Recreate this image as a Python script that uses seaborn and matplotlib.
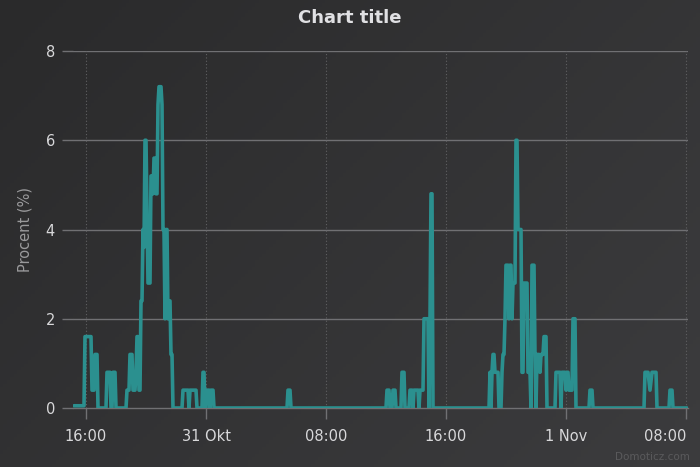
import numpy as np
import pandas as pd
import matplotlib
matplotlib.use("Agg")
import matplotlib.pyplot as plt
import seaborn as sns

# ---- data: (minutes after 30 Okt 15:12, usage in percent) ----
samples = [
    (0, 0.05), (40, 0.05), (44, 1.6), (68, 1.6), (72, 0.4), (80, 0.4), (84, 1.2),
    (92, 1.2), (96, 0), (128, 0), (132, 0.8), (144, 0.8), (148, 0), (152, 0),
    (156, 0.8), (164, 0.8), (168, 0), (208, 0), (212, 0.4), (220, 0.4), (224, 1.2),
    (232, 1.2), (236, 0.4), (244, 0.4), (248, 0.8), (252, 1.6), (256, 1.6),
    (260, 0.4), (264, 0.4), (268, 2.4), (272, 2.4), (276, 4.0), (280, 3.6),
    (284, 6.0), (288, 6.0), (296, 2.8), (304, 2.8), (308, 5.2), (312, 5.2),
    (316, 4.8), (320, 5.6), (324, 5.6), (328, 4.8), (332, 4.8), (336, 6.8),
    (340, 7.2), (348, 7.2), (352, 6.8), (356, 4.0), (360, 4.0), (364, 2.0),
    (368, 4.0), (372, 4.0), (376, 2.0), (380, 2.4), (384, 2.4), (388, 1.2),
    (392, 1.2), (396, 0), (432, 0), (436, 0.4), (456, 0.4), (460, 0), (464, 0.4),
    (488, 0.4), (492, 0), (512, 0), (516, 0.8), (520, 0.8), (524, 0), (528, 0),
    (532, 0.4), (540, 0.4), (544, 0), (548, 0.4), (556, 0.4), (560, 0),
    (852, 0), (856, 0.4), (864, 0.4), (868, 0),
    (1248, 0), (1252, 0.4), (1260, 0.4), (1264, 0), (1272, 0), (1276, 0.4),
    (1284, 0.4), (1288, 0), (1308, 0), (1312, 0.8), (1320, 0.8), (1324, 0),
    (1340, 0), (1344, 0.4), (1352, 0.4), (1356, 0), (1360, 0.4), (1376, 0.4),
    (1380, 0), (1384, 0.4), (1396, 0.4), (1400, 2.0), (1416, 2.0), (1420, 0),
    (1424, 2.0), (1428, 4.8), (1432, 4.8), (1436, 0),
    (1660, 0), (1664, 0.8), (1668, 0), (1672, 0.8), (1676, 1.2), (1680, 1.2),
    (1684, 0.8), (1696, 0.8), (1700, 0), (1708, 0), (1712, 0.8), (1716, 1.2),
    (1720, 1.2), (1724, 2.0), (1728, 3.2), (1736, 3.2), (1740, 2.0), (1744, 3.2),
    (1748, 3.2), (1752, 2.0), (1756, 2.8), (1764, 2.8), (1768, 6.0), (1772, 6.0),
    (1776, 4.0), (1788, 4.0), (1792, 0.8), (1796, 0.8), (1800, 2.8), (1812, 2.8),
    (1816, 0.8), (1824, 0.8), (1828, 0), (1832, 3.2), (1840, 3.2), (1844, 1.2),
    (1848, 0), (1852, 1.2), (1860, 1.2), (1864, 0.8), (1868, 1.2), (1876, 1.2),
    (1880, 1.6), (1888, 1.6), (1892, 0), (1924, 0), (1928, 0.8), (1944, 0.8),
    (1948, 0), (1952, 0.8), (1964, 0.8), (1968, 0.4), (1972, 0.8), (1976, 0.8),
    (1980, 0.4), (1992, 0.4), (1996, 2.0), (2004, 2.0), (2008, 0),
    (2060, 0), (2064, 0.4), (2072, 0.4), (2076, 0),
    (2280, 0), (2284, 0.8), (2296, 0.8), (2304, 0.4), (2312, 0.8), (2328, 0.8),
    (2332, 0), (2380, 0), (2384, 0.4), (2392, 0.4), (2396, 0), (2452, 0),
]
minutes = [m for m, _ in samples]
usage = [v for _, v in samples]

tick_times = ["2019-10-30 16:00", "2019-10-31 00:00", "2019-10-31 08:00",
              "2019-10-31 16:00", "2019-11-01 00:00", "2019-11-01 08:00"]
tick_labels = ["16:00", "31 Okt", "08:00", "16:00", "1 Nov", "08:00"]
y_ticks = [0, 2, 4, 6, 8]

start = pd.Timestamp("2019-10-30 15:12")
df = pd.DataFrame({
    "time": start + pd.to_timedelta(minutes, unit="m"),
    "usage": usage,
})

sns.set_theme(style="dark")
plt.rcParams["font.family"] = ["DejaVu Sans"]

fig = plt.figure(figsize=(7, 4.67), dpi=100)

# gradient background
bg = fig.add_axes([0, 0, 1, 1], zorder=-10)
gx, gy = np.meshgrid(np.linspace(0, 1, 200), np.linspace(0, 1, 140))
g = (gx * 0.6 + gy * 0.4)
c0 = np.array([0x2a, 0x2a, 0x2b]) / 255
c1 = np.array([0x3c, 0x3c, 0x3e]) / 255
img = c0[None, None, :] + g[..., None] * (c1 - c0)[None, None, :]
bg.imshow(img, aspect="auto", extent=[0, 1, 0, 1], origin="upper")
bg.axis("off")

ax = fig.add_axes([73 / 700, 1 - 408 / 467, 615 / 700, 357 / 467])
ax.set_facecolor("none")

sns.lineplot(data=df, x="time", y="usage", ax=ax, color="#2b908f",
             linewidth=2.6, estimator=None, sort=False, zorder=5,
             solid_joinstyle="round", solid_capstyle="round")

ax.set_ylim(0, 8)
ax.set_xlim(start + pd.Timedelta(minutes=-4), start + pd.Timedelta(minutes=2456))
ax.set_yticks(y_ticks)
ax.set_yticklabels([str(v) for v in y_ticks])
ax.set_xticks(pd.to_datetime(tick_times))
ax.set_xticklabels(tick_labels)
ax.get_xticklabels()[-1].set_horizontalalignment("right")

ax.grid(False)
for yv in y_ticks[1:]:
    ax.axhline(yv, color="#707073", linewidth=1.0, zorder=1)
for t in pd.to_datetime(tick_times):
    ax.axvline(t, color="#606062", linewidth=0.8, linestyle=(0, (1, 2)), zorder=1)

for s in ["top", "right", "left"]:
    ax.spines[s].set_visible(False)
ax.spines["bottom"].set_color("#707073")
ax.spines["bottom"].set_linewidth(1.0)

ax.tick_params(axis="x", colors="#707073", length=8, width=1, direction="out",
               pad=7, labelsize=10.5, labelcolor="#d8d8da", bottom=True)
ax.tick_params(axis="y", colors="#707073", length=8, width=1, direction="out",
               pad=5, labelsize=10.5, labelcolor="#d8d8da", left=True)

ax.set_xlabel("")
ax.set_ylabel("Procent (%)", color="#9a9a9c", fontsize=10.5)
ax.yaxis.set_label_coords((33 - 73) / 615, 0.5)

fig.text(0.5, 1 - 18 / 467, "Chart title", ha="center", va="center",
         fontsize=13, fontweight="bold", color="#e0e0e3")
fig.text(690 / 700, 1 - 457 / 467, "Domoticz.com", ha="right", va="center",
         fontsize=7.5, color="#5a5a5c")

fig.savefig("out.png", dpi=100)
